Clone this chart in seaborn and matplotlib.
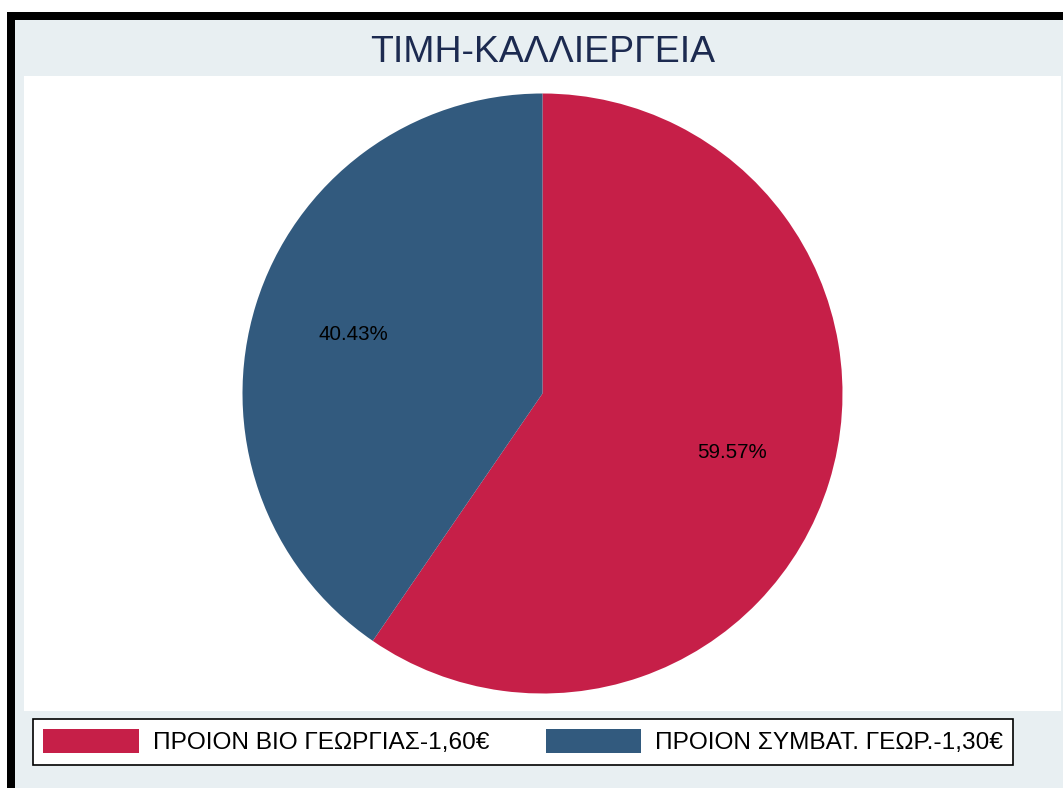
import matplotlib
matplotlib.use("Agg")
import matplotlib.pyplot as plt
from matplotlib.patches import Rectangle, Patch
import seaborn as sns

title = "ΤΙΜΗ-ΚΑΛΛΙΕΡΓΕΙΑ"
categories = ["ΠΡΟΙΟΝ ΒΙΟ ΓΕΩΡΓΙΑΣ-1,60€", "ΠΡΟΙΟΝ ΣΥΜΒΑΤ. ΓΕΩΡ.-1,30€"]
shares = [59.57, 40.43]
colors = ["#c61f48", "#325a7e"]

sns.set_theme(style="white")
plt.rcParams["font.family"] = ["Liberation Sans", "DejaVu Sans"]
plt.rcParams["text.color"] = "black"

W, H = 1063, 788
fig = plt.figure(figsize=(W / 100, H / 100), dpi=100, facecolor="white")

def px(x0, y0_top, w, h):
    return (x0 / W, (H - y0_top - h) / H, w / W, h / H)

# light panel background
fig.patches.append(Rectangle((15 / W, 0), 1 - 15 / W, (H - 20) / H,
                             transform=fig.transFigure, facecolor="#e8eff2",
                             edgecolor="none", zorder=-3))
# black frame (left and top)
fig.patches.append(Rectangle((7 / W, 0), 8 / W, (H - 12) / H,
                             transform=fig.transFigure, facecolor="black",
                             edgecolor="none", zorder=-2))
fig.patches.append(Rectangle((7 / W, (H - 20) / H), 1 - 7 / W, 8 / H,
                             transform=fig.transFigure, facecolor="black",
                             edgecolor="none", zorder=-2))

ax = fig.add_axes(px(24, 76, 1037, 635))
ax.set_zorder(1)
wedges, texts, autotexts = ax.pie(
    shares, colors=colors, startangle=90, counterclock=False,
    autopct="%.2f%%", pctdistance=0.66, radius=1.0,
    wedgeprops=dict(linewidth=0),
    textprops=dict(fontsize=14.8, color="black"))
ax.set_aspect("auto")
ax.set_ylim(-635 / 2 / 300, 635 / 2 / 300)
ax.set_xlim(-1037 / 2 / 300, 1037 / 2 / 300)
ax.set_xticks([])
ax.set_yticks([])
ax.set_frame_on(True)
for s in ax.spines.values():
    s.set_visible(False)
ax.patch.set_facecolor("white")
ax.patch.set_visible(True)

fig.text(543 / W, (H - 62) / H, title, ha="center", va="baseline",
         fontsize=26.9, color="#1c2a50")

handles = [Patch(facecolor=c, edgecolor="none") for c in colors]
leg = fig.legend(handles, categories, ncol=2, loc="upper left",
                 bbox_to_anchor=(33 / W, (H - 719) / H),
                 bbox_transform=fig.transFigure, borderaxespad=0,
                 fontsize=17.6, frameon=True, fancybox=False,
                 edgecolor="black", facecolor="white", framealpha=1,
                 handlelength=3.9, handleheight=1.1, handletextpad=0.57,
                 columnspacing=2.33, borderpad=0.42)
leg.get_frame().set_linewidth(1.2)
leg.set_zorder(5)
for t in leg.get_texts():
    t.set_color("black")

fig.savefig("out.png", dpi=100, facecolor=fig.get_facecolor())
